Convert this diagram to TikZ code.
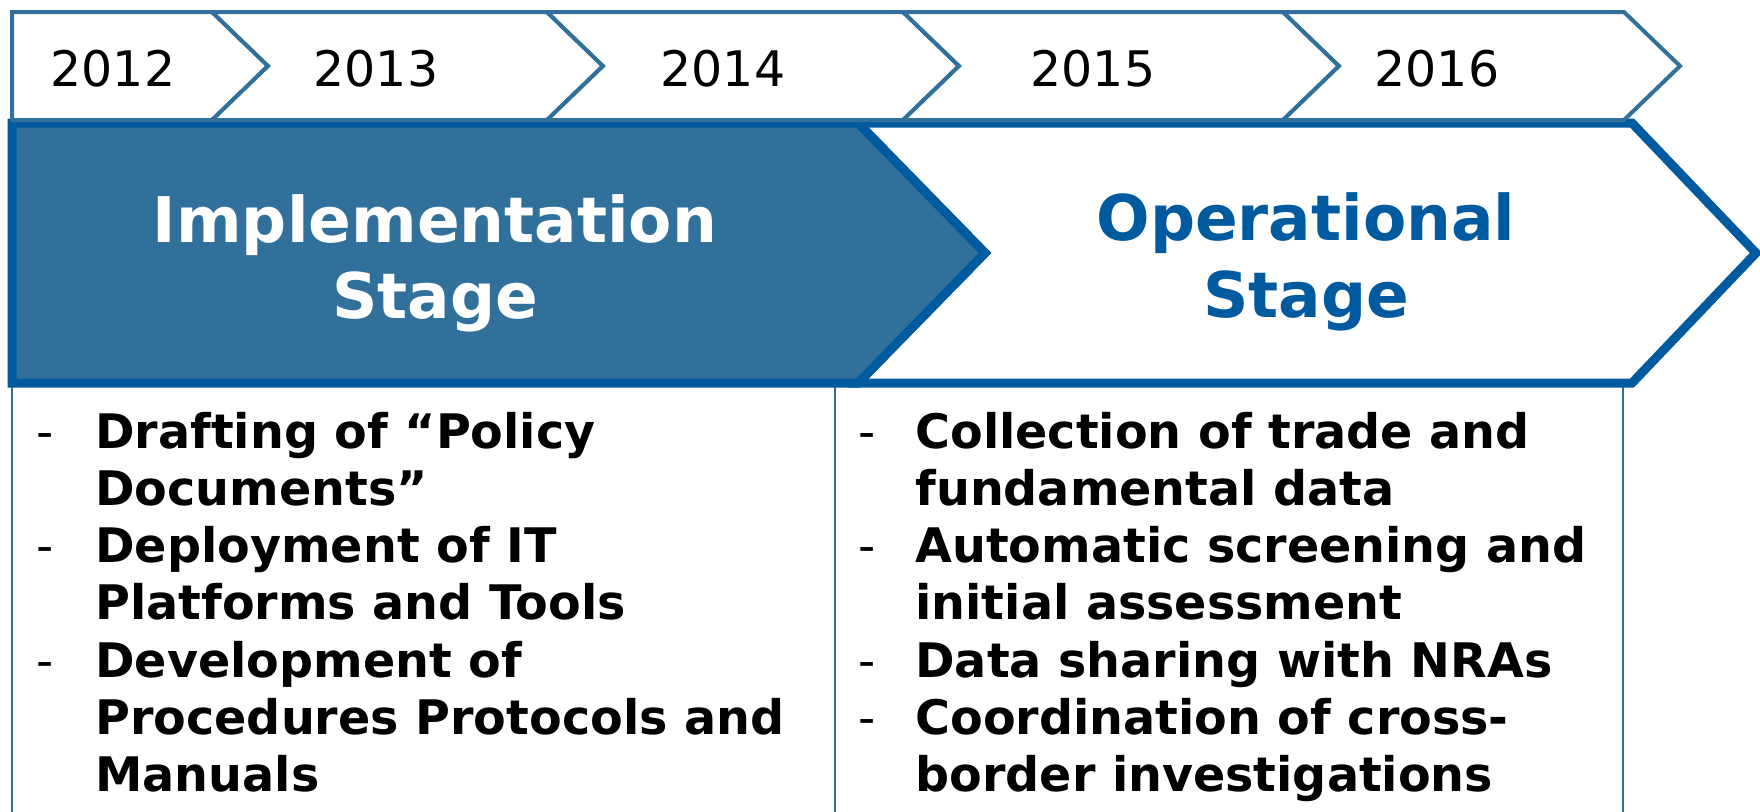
\documentclass[tikz,border=0pt]{standalone}
\usepackage{fontspec}
\setmainfont{DejaVu Sans}
\definecolor{steel}{HTML}{31709A}
\definecolor{deepblue}{HTML}{005AA0}
\begin{document}
\begin{tikzpicture}[x=0.5pt,y=-0.5pt,
  yearbox/.style={draw=steel, line width=2pt, fill=white, line join=miter},
  stagebox/.style={draw=deepblue, line width=4.5pt, line join=miter},
  listbox/.style={draw=steel, line width=1pt},
  yeartext/.style={font=\fontsize{24.5}{29}\selectfont, anchor=base, inner sep=0pt},
  stagetext/.style={font=\fontsize{31.5}{38}\selectfont\bfseries, anchor=base, inner sep=0pt},
  itemtext/.style={font=\fontsize{23.8}{28}\selectfont\bfseries, anchor=base west, inner sep=0pt},
  dashtext/.style={font=\fontsize{23.8}{28}\selectfont, anchor=base, inner sep=0pt}]
\useasboundingbox (0,0) rectangle (1760,811);
\clip (0,0) rectangle (1760,811);
% list boxes
\draw[listbox] (12,383) rectangle (835,830);
\draw[listbox] (835,383) rectangle (1623,830);
% stage arrows
\draw[stagebox, fill=white] (858,123) -- (1632,123) -- (1756,253) -- (1632,383) -- (858,383) -- (985,253) -- cycle;
\draw[stagebox, fill=steel] (12,123) -- (858,123) -- (985,253) -- (858,383) -- (12,383) -- cycle;
% year chevrons
\draw[yearbox] (12,12) -- (212,12) -- (268,66) -- (212,120) -- (12,120) -- cycle;
\draw[yearbox] (212,12) -- (547,12) -- (603,66) -- (547,120) -- (212,120) -- (268,66) -- cycle;
\draw[yearbox] (547,12) -- (903,12) -- (959,66) -- (903,120) -- (547,120) -- (603,66) -- cycle;
\draw[yearbox] (903,12) -- (1283,12) -- (1339,66) -- (1283,120) -- (903,120) -- (959,66) -- cycle;
\draw[yearbox] (1283,12) -- (1624,12) -- (1680,66) -- (1624,120) -- (1283,120) -- (1339,66) -- cycle;
% year labels
\node[yeartext] (y2012) at (113,86) {2012};
\node[yeartext] (y2013) at (376,86) {2013};
\node[yeartext] (y2014) at (723,86) {2014};
\node[yeartext] (y2015) at (1093,86) {2015};
\node[yeartext] (y2016) at (1437,86) {2016};
% stage labels
\node[stagetext, text=white] (impl1) at (435,242) {Implementation};
\node[stagetext, text=white] (impl2) at (435,318) {Stage};
\node[stagetext, text=deepblue] (oper1) at (1306,240) {Operational};
\node[stagetext, text=deepblue] (oper2) at (1306,317) {Stage};
% left list
\foreach \t [count=\i] in {{Drafting of “Policy},{Documents”},{Deployment of IT},{Platforms and Tools},{Development of},{Procedures Protocols and},{Manuals}}
  \node[itemtext] (L\i) at (95,{448+(\i-1)*57.3}) {\t};
\foreach \i in {1,3,5}
  \node[dashtext] (LD\i) at (45,{448+(\i-1)*57.3}) {-};
% right list
\foreach \t [count=\i] in {{Collection of trade and},{fundamental data},{Automatic screening and},{initial assessment},{Data sharing with NRAs},{Coordination of cross-},{border investigations}}
  \node[itemtext] (R\i) at (915,{448+(\i-1)*57.3}) {\t};
\foreach \i in {1,3,5,6}
  \node[dashtext] (RD\i) at (867,{448+(\i-1)*57.3}) {-};
\end{tikzpicture}
\end{document}
